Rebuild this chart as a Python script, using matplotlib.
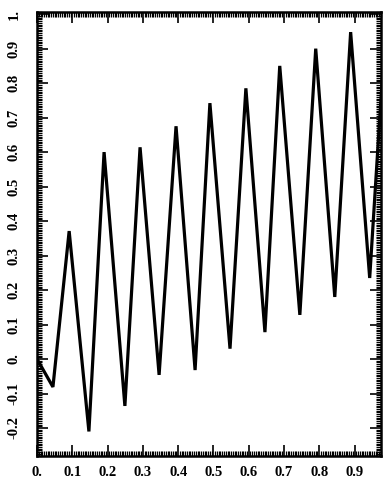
#! /usr/bin/env python3

"Zigzag line plot in an old Mathematica style."

import numpy as np
import matplotlib
matplotlib.use("Agg")
import matplotlib.pyplot as plt
from matplotlib.ticker import MultipleLocator, FuncFormatter

# vertices
x_pts = [0.0, 0.045, 0.091, 0.147, 0.19, 0.249, 0.292, 0.346, 0.394, 0.448,
         0.49, 0.547, 0.592, 0.646, 0.688, 0.745, 0.79, 0.844, 0.889, 0.943, 0.99]
y_pts = [0.0, -0.081, 0.371, -0.21, 0.6, -0.136, 0.614, -0.046, 0.675, -0.032,
         0.742, 0.03, 0.785, 0.078, 0.85, 0.128, 0.9, 0.18, 0.948, 0.235, 1.0]

x_ticks = [0.0, 0.1, 0.2, 0.3, 0.4, 0.5, 0.6, 0.7, 0.8, 0.9]
y_ticks = [-0.2, -0.1, 0.0, 0.1, 0.2, 0.3, 0.4, 0.5, 0.6, 0.7, 0.8, 0.9, 1.0]


def math_label(v, pos=None):
    s = "%.1f" % v
    if s in ("0.0", "-0.0"):
        return "0."
    if s == "1.0":
        return "1."
    return s


def get_plot():
    plt.rcParams['font.family'] = ['Liberation Serif', 'DejaVu Serif']
    fig = plt.figure(figsize=(3.86, 4.84), dpi=100)
    ax = fig.add_axes([0.096, 0.058, 0.891, 0.917])
    ax.plot(x_pts, y_pts, color="black", linewidth=2.3, solid_joinstyle="miter")
    ax.set_xlim(0, 0.975)
    ax.set_ylim(-0.281, 1.006)

    ax.set_xticks(x_ticks)
    ax.set_yticks(y_ticks)
    ax.xaxis.set_major_formatter(FuncFormatter(math_label))
    ax.yaxis.set_major_formatter(FuncFormatter(math_label))
    ax.xaxis.set_minor_locator(MultipleLocator(0.005))
    ax.yaxis.set_minor_locator(MultipleLocator(0.005))
    ax.tick_params(which="major", direction="in", length=8, width=1.2,
                   top=True, right=True, labelsize=10.5)
    ax.tick_params(axis="x", which="major", pad=7)
    ax.tick_params(axis="y", which="major", pad=12)
    ax.tick_params(which="minor", direction="in", length=3.5, width=0.9,
                   top=True, right=True)
    for lbl in ax.get_xticklabels() + ax.get_yticklabels():
        lbl.set_fontweight("bold")
    for lbl in ax.get_yticklabels():
        lbl.set_rotation(90)
        lbl.set_va("center")
    for sp in ax.spines.values():
        sp.set_linewidth(1.8)

    fig.savefig("out.png", dpi=100)
    plt.close(fig)


if __name__ == '__main__':
    get_plot()
